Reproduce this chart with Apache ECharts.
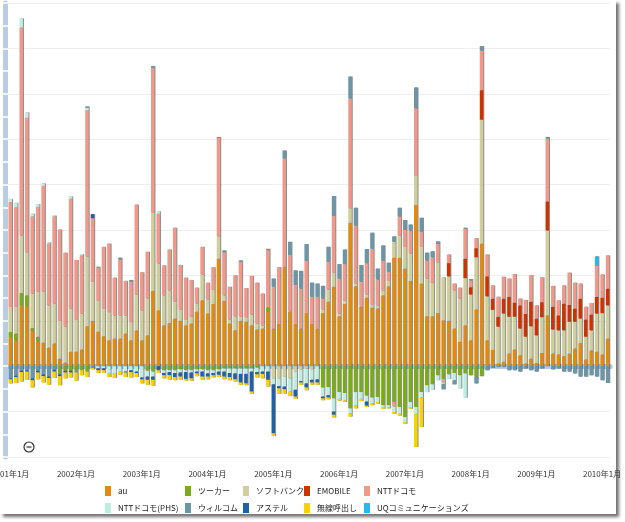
<!DOCTYPE html>
<html>
<head>
<meta charset="utf-8">
<script src="https://cdn.jsdelivr.net/npm/echarts@6/dist/echarts.min.js"></script>
<style>
html, body { margin: 0; padding: 0; background: #fff; }
#frame { position: absolute; left: 0; top: 0; width: 616px; height: 514px; background: #fff; box-shadow: 3px 3px 3px rgba(0,0,0,0.55); }
#chart { position: absolute; left: 0; top: 0; width: 625px; height: 522px; }
</style>
</head>
<body>
<div id="frame"></div>
<div id="chart"></div>
<script>
// 月次純増数（万）  2001年1月〜2010年2月
const months = []
for (let y = 2001; y <= 2010; y++) {
  for (let m = 1; m <= 12; m++) {
    if (months.length < 110) months.push(y + '年' + m + '月')
  }
}

const au = [
  6.3, 5.7, 13.4, 13.2, 7.6, 5.4, 5.2, 4.1, 5.0, 1.7, 0.8, 3.2,
  3.2, 3.7, 8.8, 10.0, 7.6, 6.6, 5.7, 6.1, 6.1, 7.2, 5.7, 7.9,
  5.7, 6.8, 16.6, 12.3, 9.0, 9.5, 10.5, 10.0, 9.0, 9.4, 12.0, 14.5,
  11.6, 13.7, 23.7, 14.4, 9.4, 7.9, 10.0, 9.8, 9.0, 8.1, 8.3, 12.0,
  8.3, 9.3, 21.9, 12.0, 9.3, 8.3, 11.7, 9.3, 8.3, 11.7, 14.2, 17.5,
  11.0, 13.7, 31.6, 17.6, 13.1, 15.1, 12.9, 12.7, 15.6, 17.6, 23.9, 23.9,
  21.5, 18.8, 35.5, 18.2, 11.0, 11.0, 11.7, 10.1, 10.0, 8.3, 5.4, 9.0,
  5.7, 12.5, 27.0, 5.7, 3.6, 0.6, 1.0, 2.8, 3.7, 2.4, 0.6, 1.7,
  0.7, 2.9, 11.2, 2.8, 2.6, 2.2, 2.8, 3.9, 5.1, 1.5, 3.5, 3.2,
  2.6, 6.1
]
const tuka = [
  1.25, 1.5, 2.7, 2.4, 0.8, 1.1, 0, 0, 0, -1.8, -1.0, -1.0,
  -1.0, -0.9, -1.2, 0, 0, 0, 0, 0, 0, 0, 0, 0,
  0, -1.0, -1.2, 0, -0.9, -0.9, -0.9, -0.7, -0.9, -0.9, -0.7, -0.7,
  -0.9, -0.9, -0.7, -0.5, -0.5, -0.5, -0.5, -0.5, -0.5, -0.3, 0, 0.95,
  0, 0, 0, 0, 0, 0, 0, 0, 0, -4.7, -4.6, -7.1,
  -5.7, -5.9, -9.3, -5.7, -5.7, -6.5, -6.9, -6.8, -8.6, -8.6, -7.9, -9.0,
  -11.2, -7.9, -9.0, -5.7, -4.2, -4.0, -2.0, -2.8, -1.8, -1.5, -2.0, -1.6,
  -2.0, -2.3, -2.2, 0, 0, 0, 0, 0, 0, 0, 0, 0,
  0, 0, 0, 0, 0, 0, 0, 0, 0, 0, 0, 0,
  0, 0
]
const softbank = [
  5.5, 5.9, 12.7, 9.5, 7.6, 9.9, 11.2, 9.3, 8.8, 8.3, 7.9, 9.5,
  7.0, 7.9, 15.4, 8.6, 6.8, 6.1, 6.2, 5.1, 5.1, 4.0, 4.0, 7.9,
  6.6, 8.1, 17.2, 10.3, 6.6, 7.2, 3.7, 2.5, 1.2, 1.5, 1.8, 5.7,
  3.1, 3.1, 4.9, 1.2, 0.9, 3.1, 0.9, 1.0, 2.4, 1.3, 0.7, 0,
  -2.7, -2.7, -2.3, -2.7, -1.2, -0.8, -0.5, -0.7, 0, 0.8, 2.7, 3.1,
  0.6, 0.7, 3.2, 0.6, 0, 0.7, 0.7, 0.7, 1.1, 1.2, 3.5, 4.9,
  4.8, 6.0, 6.4, 8.1, 8.3, 7.3, 11.2, 9.5, 9.8, 8.4, 9.5, 10.4,
  10.1, 11.5, 27.3, 9.7, 8.8, 8.1, 10.6, 8.1, 7.2, 5.9, 5.9, 7.1,
  6.1, 7.9, 18.7, 5.3, 5.3, 5.7, 7.0, 5.9, 5.4, 5.0, 4.4, 8.4,
  9.1, 7.3
]
const emobile = [
  0, 0, 0, 0, 0, 0, 0, 0, 0, 0, 0, 0,
  0, 0, 0, 0, 0, 0, 0, 0, 0, 0, 0, 0,
  0, 0, 0, 0, 0, 0, 0, 0, 0, 0, 0, 0,
  0, 0, 0, 0, 0, 0, 0, 0, 0, 0, 0, 0,
  0, 0, 0, 0, 0, 0, 0, 0, 0, 0, 0, 0,
  0, 0, 0, 0, 0, 0, 0, 0, 0, 0, 0, 0,
  0, 0, 0, 0, 0, 0, 0, 0, 2.9, 0, 0, 4.3,
  1.6, 2.0, 6.5, 4.4, 2.5, 2.2, 3.3, 4.4, 3.1, 5.1, 5.0, 5.4,
  3.7, 3.3, 6.4, 5.0, 3.3, 5.9, 3.7, 2.9, 4.4, 3.8, 3.5, 3.7,
  3.4, 3.7
]
const docomo = [
  23.1, 21.9, 45.8, 29.6, 17.0, 18.7, 23.3, 13.6, 19.2, 20.1, 16.3, 24.2,
  13.2, 12.8, 32.2, 14.0, 7.3, 13.6, 15.1, 8.3, 12.3, 7.6, 8.9, 19.8,
  8.4, 10.3, 31.9, 11.0, 6.6, 9.0, 16.3, 9.8, 9.3, 8.1, 3.5, 6.1,
  3.7, 5.0, 21.7, 9.5, 7.2, 9.0, 12.1, 6.4, 8.5, 9.0, 7.0, 12.6,
  9.2, 12.5, 23.9, 12.5, 8.6, 8.8, 11.5, 6.0, 7.0, 2.4, 6.1, 12.5,
  7.7, 8.1, 24.2, 12.8, 5.5, 6.9, 12.3, 5.7, 6.5, 2.0, -1.0, 4.2,
  3.7, 5.1, 14.9, 3.3, 4.0, 5.7, 4.0, -0.8, 1.9, 1.5, 2.4, 6.6,
  1.5, 2.2, 8.7, 4.8, 2.9, 4.4, 4.8, 4.0, 6.3, 1.5, 3.1, 5.9,
  2.9, 5.5, 13.8, 4.6, 3.3, 4.0, 7.1, 5.7, 3.3, 2.8, 2.5, 6.8,
  5.1, 7.3
]
const docomoPhs = [
  0.7, 1.0, 2.0, 1.2, 0.6, 0.6, 0.6, 0.3, 0.2, 0, 0, 0.5,
  0, 0.3, 0.5, 0, -0.5, -0.5, -1.5, -1.5, -1.2, -1.2, -0.9, -1.2,
  -2.5, -1.3, -1.1, 0.5, -0.6, -0.4, -0.6, -0.7, -0.4, -0.5, -0.5, -0.5,
  -0.7, -0.6, -0.5, -0.7, -1.0, -1.1, -1.2, -1.2, -0.7, -1.0, -1.2, -1.2,
  -1.3, -1.7, -2.2, -2.9, -4.0, -2.5, -3.3, -2.3, -2.9, -2.0, -1.8, -2.9,
  -1.5, -1.6, -1.1, -2.9, -1.5, -1.3, -1.3, -1.1, -0.4, -0.5, -1.2, -1.5,
  -1.1, -1.1, -1.5, -1.2, -1.5, -1.2, -1.1, -0.3, -1.0, -1.6, -2.9, -5.3,
  0, 0, 0, 0, 0, 0, 0, 0, 0, 0, 0, 0,
  0, 0, 0, 0, 0, 0, 0, 0, 0, 0, 0, 0,
  0, 0
]
const willcom = [
  -2.7, -2.1, -1.0, -0.9, -2.7, -1.0, -1.8, -2.3, -0.8, 0, 0, 0,
  -0.4, 0, 0.3, -0.4, 0.2, 0, 0, 0, 0.4, 0, 0.4, 0,
  0, 0, 0.4, 0, 0, 0, 0, 0, 0, 0, 0, 0,
  0, 0, 0.2, 0.4, 0, 0, 0.3, 0, 0, 0, 0, 0.3,
  1.8, 0, 1.7, 2.9, 3.2, 3.9, 3.7, 3.1, 2.9, 2.8, 3.3, 4.4,
  3.2, 3.2, 4.8, 3.9, 3.7, 3.1, 3.5, 2.4, 3.4, 2.0, 1.2, 1.9,
  2.2, 1.3, 4.6, 3.1, 1.7, 1.3, 0.6, -1.2, 0, -0.9, 0, 0.2,
  0.3, -1.5, 1.0, -0.9, -0.4, -0.2, -0.2, -0.9, -0.9, -1.2, -0.5, -0.9,
  -1.2, -0.5, 0.4, -0.7, -0.5, -1.2, -1.2, -1.6, -2.3, -2.3, -2.0, -2.3,
  -3.1, -3.7
]
const astel = [
  -0.2, -0.3, -0.3, -0.3, -0.4, -0.4, -0.4, -0.3, -0.4, -0.4, -0.4, -0.4,
  0, 0, 0, 0.9, -0.4, -0.4, 0, 0, 0, -0.2, -0.4, -0.3,
  -0.4, -0.7, -0.7, -0.9, -0.5, -0.7, -0.9, -0.9, -1.5, -1.3, -0.4, -1.1,
  -0.7, -0.5, -0.7, -1.1, -0.9, -1.3, -1.9, -2.1, -4.4, -0.5, -0.5, -1.8,
  -10.8, -0.5, -0.6, 0, -1.5, -0.3, -0.9, -0.6, -0.7, -0.4, -0.5, -0.7,
  0, 0, 0, 0, 0, -0.9, 0, 0, 0, 0, 0, 0,
  0, 0, 0, 0, 0, 0, 0, 0, 0, 0, 0, 0,
  0, 0, 0, 0, 0, 0, 0, 0, 0, 0, 0, 0,
  0, 0, 0, 0, 0, 0, 0, 0, 0, 0, 0, 0,
  0, 0
]
const pager = [
  -0.9, -1.3, -2.1, -1.8, -1.6, -1.5, -1.4, -1.5, -1.4, -2.0, -1.3, -1.1,
  -1.8, -1.1, -1.2, -0.3, -0.6, -0.6, -0.9, -1.1, -0.7, -1.0, -1.2, -0.9,
  -0.9, -1.1, -1.3, -0.6, -0.7, -1.0, -0.7, -0.7, -0.4, -0.5, -0.6, -0.7,
  -0.6, -0.5, -0.5, -0.6, -0.7, -0.5, -0.5, -0.4, -0.5, -0.7, -1.0, -1.5,
  -0.6, -1.2, -1.0, -1.0, -0.5, -0.5, -0.6, -0.5, -0.5, -0.4, -0.4, -0.6,
  -0.4, -0.4, -0.7, -0.7, -0.5, -0.3, -0.4, -0.4, -0.4, -0.2, -0.4, -0.4,
  -0.4, -0.4, -7.3, -6.5, 0, 0, 0, 0, 0, 0, 0, 0,
  0, 0, 0, 0, 0, 0, 0, 0, 0, 0, 0, 0,
  0, 0, 0, 0, 0, 0, 0, 0, 0, 0, 0, 0,
  0, 0
]
const uq = [
  0, 0, 0, 0, 0, 0, 0, 0, 0, 0, 0, 0,
  0, 0, 0, 0, 0, 0, 0, 0, 0, 0, 0, 0,
  0, 0, 0, 0, 0, 0, 0, 0, 0, 0, 0, 0,
  0, 0, 0, 0, 0, 0, 0, 0, 0, 0, 0, 0,
  0, 0, 0, 0, 0, 0, 0, 0, 0, 0, 0, 0,
  0, 0, 0, 0, 0, 0, 0, 0, 0, 0, 0, 0,
  0, 0, 0, 0, 0, 0, 0, 0, 0, 0, 0, 0,
  0, 0, 0, 0, 0, 0, 0, 0, 0, 0, 0, 0,
  0, 0, 0, 0, 0, 0, 0, 0, 0, 0, 0, 2.1,
  0, 0
]

const names = ['au', 'ツーカー', 'ソフトバンク', 'EMOBILE', 'NTTドコモ',
  'NTTドコモ(PHS)', 'ウィルコム', 'アステル', '無線呼出し', 'UQコミュニケーションズ']
const colors = ['#e08b10', '#7aab1b', '#cfcf9e', '#cc3300', '#f0988a',
  '#bdeee0', '#6a96a8', '#1c62a5', '#f7d300', '#22bbee']
const values = [au, tuka, softbank, emobile, docomo, docomoPhs, willcom, astel, pager, uq]

const font = '"Noto Sans CJK JP", sans-serif'
const yearTick = (i) => i % 12 === 0

// 凡例は5列×2行
const legendCols = [[0, 5], [1, 6], [2, 7], [3, 8], [4, 9]]
const legendX = [105, 185, 243, 304, 364]

const option = {
  animation: false,
  grid: { left: 7.5, right: 14.7, top: 3, bottom: 65, containLabel: false, outerBoundsMode: 'none' },
  legend: legendCols.map((c, j) => ({
    data: c.map(k => names[k]),
    orient: 'vertical',
    left: legendX[j],
    top: 486,
    padding: 0,
    icon: 'rect',
    itemWidth: 6,
    itemHeight: 10,
    itemGap: 7,
    textStyle: { fontSize: 8, color: '#222', fontFamily: font, padding: [0, 0, 0, 2] }
  })),
  xAxis: [
    {
      type: 'category',
      data: months,
      offset: 2.5,
      axisLine: { lineStyle: { color: '#b9cde2', width: 5 } },
      axisTick: { alignWithLabel: true, interval: yearTick, length: 3, lineStyle: { color: '#fff', width: 2 } },
      axisLabel: { interval: yearTick, fontSize: 8, color: '#333', margin: 10, fontFamily: font },
      splitLine: { show: false }
    },
    {
      type: 'category',
      data: months,
      position: 'bottom',
      offset: 2.5,
      axisLine: { show: false },
      axisTick: { inside: true, alignWithLabel: true, interval: yearTick, length: 3, lineStyle: { color: '#fff', width: 2 } },
      axisLabel: { show: false },
      splitLine: { show: false }
    }
  ],
  yAxis: [
    {
      type: 'value',
      min: -20,
      max: 80,
      interval: 10,
      offset: 2,
      axisLine: { show: true, lineStyle: { color: '#b9cde2', width: 5 } },
      axisTick: { show: true, length: 3, lineStyle: { color: '#fff', width: 1.5 } },
      minorTick: { show: true, splitNumber: 2, length: 3, lineStyle: { color: '#fff', width: 1.5 } },
      axisLabel: { show: false },
      splitLine: { lineStyle: { color: '#efefef' } }
    },
    {
      type: 'value',
      min: -20,
      max: 80,
      interval: 10,
      offset: 2,
      position: 'left',
      axisLine: { show: false },
      axisTick: { show: true, inside: true, length: 3, lineStyle: { color: '#fff', width: 1.5 } },
      minorTick: { show: true, splitNumber: 2, length: 3, lineStyle: { color: '#fff', width: 1.5 } },
      axisLabel: { show: false },
      splitLine: { show: false }
    }
  ],
  graphic: [
    { type: 'circle', shape: { cx: 29, cy: 447, r: 5 }, style: { fill: '#fff', stroke: '#333', lineWidth: 1.2 } },
    { type: 'line', shape: { x1: 26.5, y1: 447, x2: 31.5, y2: 447 }, style: { stroke: '#333', lineWidth: 1.2 } }
  ],
  series: names.map((n, k) => ({
    name: n,
    type: 'bar',
    stack: 'net',
    barWidth: 3.5,
    data: values[k],
    itemStyle: {
      color: colors[k],
      shadowColor: 'rgba(0,0,0,0.45)',
      shadowBlur: 0,
      shadowOffsetX: 1
    }
  }))
}

const chart = echarts.init(document.getElementById('chart'))
chart.setOption(option)
</script>
</body>
</html>
